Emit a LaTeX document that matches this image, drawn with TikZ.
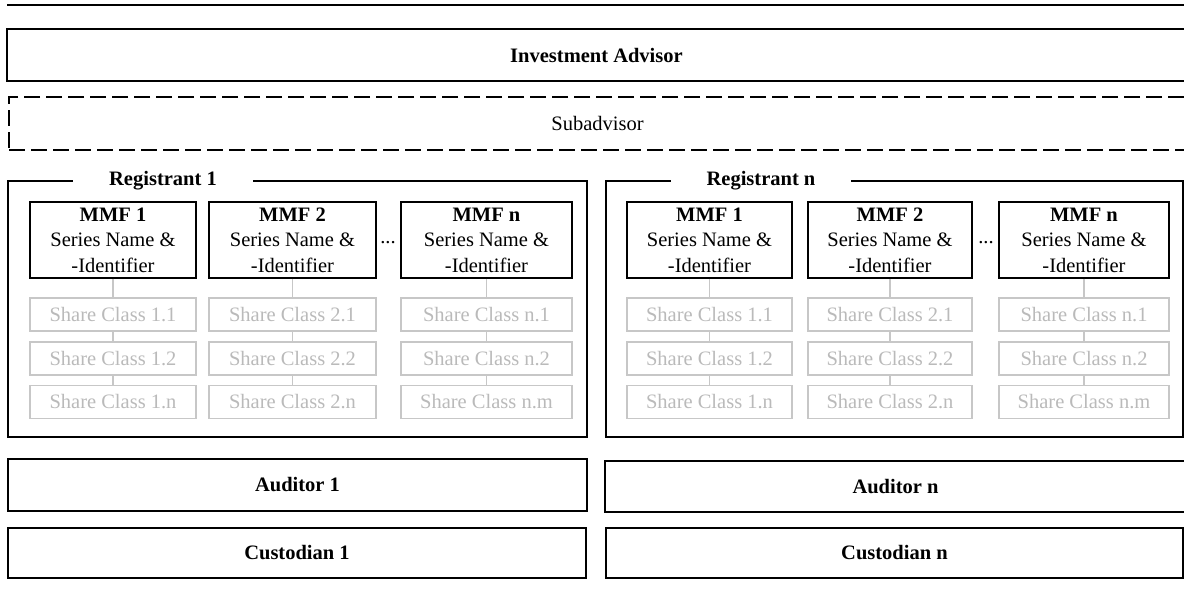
\documentclass[tikz,border=0pt]{standalone}
\usepackage{fontspec}
\setmainfont{Liberation Serif}
\usetikzlibrary{positioning}

\begin{document}
\begin{tikzpicture}[x=1pt, y=-1pt,
    font=\fontsize{20.5}{25.5}\selectfont,
    widebox/.style={rectangle, draw, line width=1.6pt, inner sep=0pt, font=\fontsize{20.5}{25.5}\selectfont\bfseries},
    subbox/.style={rectangle, draw, line width=1.6pt, inner sep=0pt, dash pattern=on 16pt off 6pt},
    regframe/.style={rectangle, draw, line width=1.6pt, inner sep=0pt},
    regtitle/.style={fill=white, inner sep=1pt, minimum width=180pt, font=\fontsize{20.5}{25.5}\selectfont\bfseries},
    mmfbox/.style={rectangle, draw, line width=1.6pt, inner sep=0pt, align=center, minimum height=76pt},
    sharebox/.style={rectangle, draw=black!22, line width=1.4pt, inner sep=0pt, text=black!27, minimum height=33pt},
    link/.style={draw=black!22, line width=1.2pt}]
    \useasboundingbox (0,0) rectangle (1184,605);

    % Top rule
    \draw[line width=1.6pt] (7,5) -- (1184,5);

    % Advisors
    \node[widebox, minimum width=1179pt, minimum height=52pt] (adv) at (596.5,55) {Investment Advisor};
    \node[subbox, minimum width=1177pt, minimum height=53pt] (sub) at (597.5,123.5) {Subadvisor};

    % Registrant frames
    \node[regframe, minimum width=579pt, minimum height=256pt] (reg1) at (297.5,309) {};
    \node[regframe, minimum width=577pt, minimum height=256pt] (regn) at (894.5,309) {};
    \node[regtitle] (reg1title) at (163,181) {Registrant 1};
    \node[regtitle] (regntitle) at (761,181) {Registrant n};

    % Registrant 1: funds
    \node[mmfbox, minimum width=166pt] (r1m1) at (113,240) {\textbf{MMF 1}\\Series Name \&\\-Identifier};
    \node[mmfbox, minimum width=167pt] (r1m2) at (292.5,240) {\textbf{MMF 2}\\Series Name \&\\-Identifier};
    \node[mmfbox, minimum width=171pt] (r1mn) at (486.5,240) {\textbf{MMF n}\\Series Name \&\\-Identifier};
    \node (r1dots) at (388,243) {...};

    % Registrant 1: share classes
    \node[sharebox, minimum width=166pt] (r1s11) at (113,314.5) {Share Class 1.1};
    \node[sharebox, minimum width=166pt] (r1s12) at (113,358.5) {Share Class 1.2};
    \node[sharebox, minimum width=166pt] (r1s1n) at (113,402) {Share Class 1.n};
    \node[sharebox, minimum width=167pt] (r1s21) at (292.5,314.5) {Share Class 2.1};
    \node[sharebox, minimum width=167pt] (r1s22) at (292.5,358.5) {Share Class 2.2};
    \node[sharebox, minimum width=167pt] (r1s2n) at (292.5,402) {Share Class 2.n};
    \node[sharebox, minimum width=171pt] (r1sn1) at (486.5,314.5) {Share Class n.1};
    \node[sharebox, minimum width=171pt] (r1sn2) at (486.5,358.5) {Share Class n.2};
    \node[sharebox, minimum width=171pt] (r1snm) at (486.5,402) {Share Class n.m};

    % Registrant n: funds
    \node[mmfbox, minimum width=165pt] (rnm1) at (709.5,240) {\textbf{MMF 1}\\Series Name \&\\-Identifier};
    \node[mmfbox, minimum width=164pt] (rnm2) at (890,240) {\textbf{MMF 2}\\Series Name \&\\-Identifier};
    \node[mmfbox, minimum width=170pt] (rnmn) at (1084,240) {\textbf{MMF n}\\Series Name \&\\-Identifier};
    \node (rndots) at (986,243) {...};

    % Registrant n: share classes
    \node[sharebox, minimum width=165pt] (rns11) at (709.5,314.5) {Share Class 1.1};
    \node[sharebox, minimum width=165pt] (rns12) at (709.5,358.5) {Share Class 1.2};
    \node[sharebox, minimum width=165pt] (rns1n) at (709.5,402) {Share Class 1.n};
    \node[sharebox, minimum width=164pt] (rns21) at (890,314.5) {Share Class 2.1};
    \node[sharebox, minimum width=164pt] (rns22) at (890,358.5) {Share Class 2.2};
    \node[sharebox, minimum width=164pt] (rns2n) at (890,402) {Share Class 2.n};
    \node[sharebox, minimum width=170pt] (rnsn1) at (1084,314.5) {Share Class n.1};
    \node[sharebox, minimum width=170pt] (rnsn2) at (1084,358.5) {Share Class n.2};
    \node[sharebox, minimum width=170pt] (rnsnm) at (1084,402) {Share Class n.m};

    % Links fund -> share classes
    \draw[link] (r1m1) -- (r1s11); \draw[link] (r1s11) -- (r1s12); \draw[link] (r1s12) -- (r1s1n);
    \draw[link] (r1m2) -- (r1s21); \draw[link] (r1s21) -- (r1s22); \draw[link] (r1s22) -- (r1s2n);
    \draw[link] (r1mn) -- (r1sn1); \draw[link] (r1sn1) -- (r1sn2); \draw[link] (r1sn2) -- (r1snm);
    \draw[link] (rnm1) -- (rns11); \draw[link] (rns11) -- (rns12); \draw[link] (rns12) -- (rns1n);
    \draw[link] (rnm2) -- (rns21); \draw[link] (rns21) -- (rns22); \draw[link] (rns22) -- (rns2n);
    \draw[link] (rnmn) -- (rnsn1); \draw[link] (rnsn1) -- (rnsn2); \draw[link] (rnsn2) -- (rnsnm);

    % Auditors and custodians
    \node[widebox, minimum width=579pt, minimum height=52pt] (aud1) at (297.5,485) {Auditor 1};
    \node[widebox, minimum width=581pt, minimum height=51pt] (audn) at (895.5,486.5) {Auditor n};
    \node[widebox, minimum width=578pt, minimum height=50pt] (cus1) at (297,553) {Custodian 1};
    \node[widebox, minimum width=577pt, minimum height=50pt] (cusn) at (894.5,553) {Custodian n};
\end{tikzpicture}
\end{document}
